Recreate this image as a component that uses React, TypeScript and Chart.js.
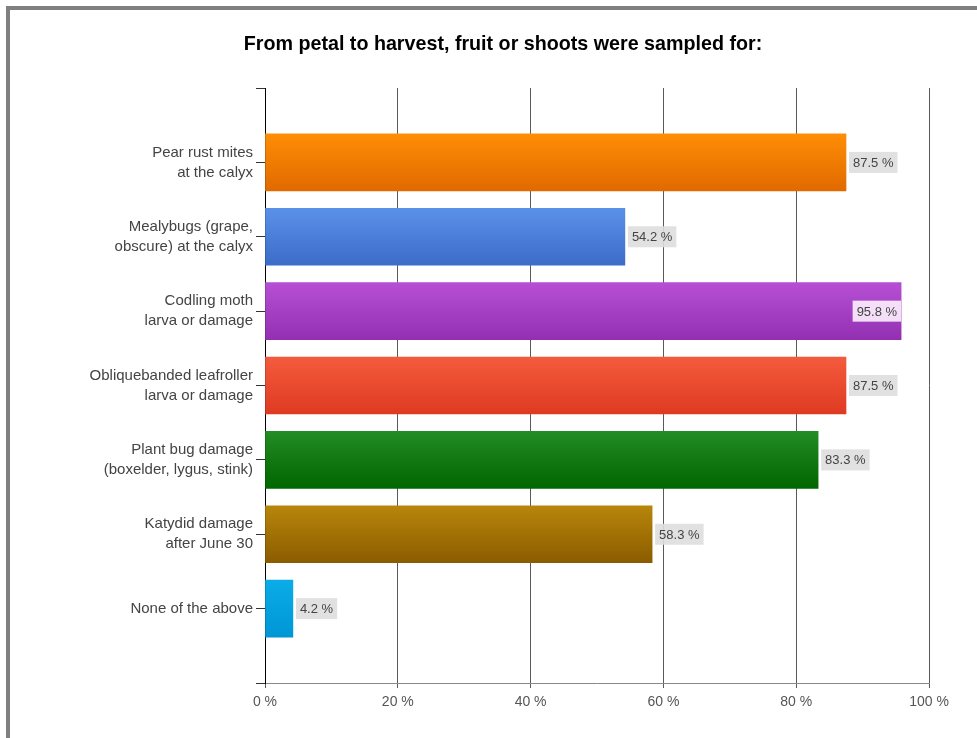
import React, { useEffect, useRef } from 'react';
import { Chart, registerables } from 'chart.js';

Chart.register(...registerables);

const TITLE = 'From petal to harvest, fruit or shoots were sampled for:';

const categories: string[][] = [
  ['Pear rust mites', 'at the calyx'],
  ['Mealybugs (grape,', 'obscure) at the calyx'],
  ['Codling moth', 'larva or damage'],
  ['Obliquebanded leafroller', 'larva or damage'],
  ['Plant bug damage', '(boxelder, lygus, stink)'],
  ['Katydid damage', 'after June 30'],
  ['None of the above'],
];

const values: number[] = [87.5, 54.2, 95.8, 87.5, 83.3, 58.3, 4.2];

const xTicks: number[] = [0, 20, 40, 60, 80, 100];

const topColors: string[] = ['#ff8d05', '#5b90e8', '#b64fd4', '#f45b3d', '#248c24', '#b8860b', '#0aace8'];
const bottomColors: string[] = ['#e06a00', '#3c6cc8', '#9330b2', '#de3a22', '#006600', '#8b5c00', '#0096d6'];

const FONT = '"Liberation Sans", Arial, sans-serif';

export default function App() {
  const ref = useRef<HTMLCanvasElement>(null);

  useEffect(() => {
    document.body.style.margin = '0';
    const labels: (string | string[])[] = ['', ...categories, ''];
    const data: (number | null)[] = [null, ...values, null];

    const framePlugin = {
      id: 'frame',
      beforeDraw(chart: any) {
        const c = chart.ctx;
        c.save();
        c.fillStyle = '#ffffff';
        c.fillRect(0, 0, chart.width, chart.height);
        c.fillStyle = '#808080';
        c.fillRect(6, 6, chart.width - 6, 4);
        c.fillRect(6, 6, 4, chart.height - 6);
        c.restore();
      },
    };

    const labelPlugin = {
      id: 'valueLabels',
      afterDatasetsDraw(chart: any) {
        const c = chart.ctx;
        const meta = chart.getDatasetMeta(0);
        c.save();
        c.font = '13px ' + FONT;
        c.textBaseline = 'middle';
        meta.data.forEach((el: any, i: number) => {
          const v = data[i];
          if (v == null) return;
          const text = v.toFixed(1) + ' %';
          const w = c.measureText(text).width + 8;
          const h = 21;
          let x = el.x + 3;
          let inside = false;
          if (x + w > chart.chartArea.right) {
            x = el.x - w;
            inside = true;
          }
          c.fillStyle = inside ? 'rgba(255,245,255,0.88)' : 'rgba(222,222,222,0.9)';
          c.fillRect(x, el.y - h / 2, w, h);
          c.fillStyle = '#444';
          c.fillText(text, x + 4, el.y + 1);
        });
        c.restore();
      },
    };

    const chart = new Chart(ref.current as HTMLCanvasElement, {
      type: 'bar',
      data: {
        labels,
        datasets: [
          {
            data,
            barThickness: 57,
            borderWidth: 0,
            backgroundColor: (ctx: any) => {
              const i = ctx.dataIndex - 1;
              const chart = ctx.chart;
              const ys = chart.scales && chart.scales.y;
              if (i < 0 || i >= values.length) return 'transparent';
              if (!ys || !chart.chartArea) return topColors[i];
              const yc = ys.getPixelForValue(ctx.dataIndex);
              const g = chart.ctx.createLinearGradient(0, yc - 28.5, 0, yc + 28.5);
              g.addColorStop(0, topColors[i]);
              g.addColorStop(1, bottomColors[i]);
              return g;
            },
          },
        ],
      },
      options: {
        indexAxis: 'y',
        animation: false,
        responsive: false,
        maintainAspectRatio: false,
        layout: { padding: { left: 77, right: 48, top: 0, bottom: 0 } },
        plugins: {
          legend: { display: false },
          tooltip: { enabled: false },
          title: {
            display: true,
            text: TITLE,
            color: '#000',
            font: { family: FONT, size: 19.7, weight: 'bold', lineHeight: 1.2 },
            padding: { top: 33, bottom: 31.4 },
          },
        },
        scales: {
          x: {
            type: 'linear',
            min: 0,
            max: 100,
            afterBuildTicks: (s: any) => {
              s.ticks = xTicks.map((v) => ({ value: v }));
            },
            afterFit: (s: any) => {
              s.height = 55;
            },
            ticks: {
              callback: (v: any) => v + ' %',
              color: '#555',
              font: { family: FONT, size: 14 },
              padding: 6,
              maxRotation: 0,
            },
            grid: { color: '#5a5a5a', lineWidth: 1, tickLength: 5, drawTicks: true },
            border: { display: true, color: '#888', width: 1 },
          },
          y: {
            type: 'category',
            offset: false,
            afterFit: (s: any) => {
              s.width = 188;
            },
            ticks: {
              autoSkip: false,
              color: '#444',
              font: { family: FONT, size: 15, lineHeight: 1.33 },
              padding: 3,
            },
            grid: { offset: false, drawOnChartArea: false, drawTicks: true, tickLength: 9, color: '#333' },
            border: { display: true, color: '#000', width: 1 },
          },
        },
      },
      plugins: [framePlugin, labelPlugin],
    } as any);

    return () => chart.destroy();
  }, []);

  return (
    <div style={{ position: 'relative', width: 977, height: 738 }}>
      <canvas ref={ref} width={977} height={738} style={{ display: 'block' }} />
    </div>
  );
}
